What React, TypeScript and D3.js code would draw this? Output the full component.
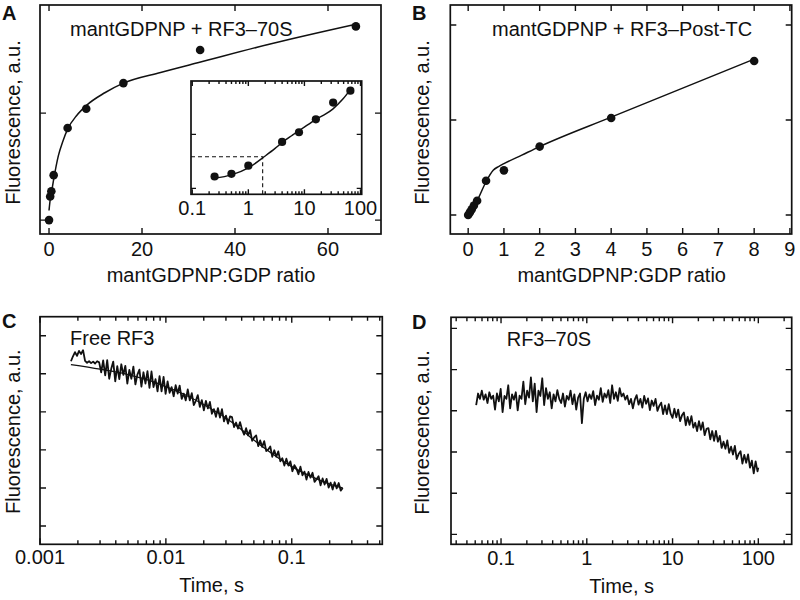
import React from 'react';
import * as d3 from 'd3';

// ---------- Panel A data ----------
const aRatio = [0, 0.25, 0.5, 1, 4, 8, 16, 32.5, 66];
const aFluor = [0.0, 0.22, 0.27, 0.42, 0.86, 1.04, 1.28, 1.59, 1.81];
const aFitRatio = [0, 0.25, 0.5, 1, 2, 3, 4, 6, 8, 12, 16, 24, 32, 48, 66];
const aFitFluor = [0.09, 0.19, 0.25, 0.38, 0.6, 0.74, 0.85, 0.98, 1.07, 1.19, 1.28, 1.38, 1.47, 1.65, 1.83];
const aXTicks = [0, 20, 40, 60];
const aYTicks = [0, 1];
const insetXTicks = [0.1, 1, 10, 100];
const insetYTicks = [0, 1];
const insetDash = { x: 1.8, y: 0.585 };

// ---------- Panel B data ----------
const bRatio = [0, 0.05, 0.1, 0.16, 0.25, 0.5, 1, 2, 4, 8];
const bFluor = [0, 0.03, 0.06, 0.1, 0.15, 0.36, 0.47, 0.72, 1.02, 1.62];
const bFitRatio = [0, 0.125, 0.25, 0.5, 0.7, 0.85, 1, 1.5, 2, 4, 8];
const bFitFluor = [0, 0.07, 0.15, 0.35, 0.47, 0.51, 0.54, 0.63, 0.72, 1.03, 1.64];
const bXTicks = [0, 1, 2, 3, 4, 5, 6, 7, 8, 9];
const bYTicks = [0, 1, 2];

// ---------- Panel C data (Free RF3) ----------
const cTimeMs = [
  1.762, 1.828, 1.897, 1.968, 2.042, 2.118, 2.198, 2.280, 2.366, 2.455,
  2.547, 2.642, 2.741, 2.844, 2.951, 3.062, 3.176, 3.296, 3.419, 3.547,
  3.680, 3.818, 3.962, 4.110, 4.265, 4.425, 4.591, 4.763, 4.941, 5.127,
  5.319, 5.519, 5.726, 5.940, 6.163, 6.394, 6.634, 6.883, 7.141, 7.409,
  7.687, 7.975, 8.274, 8.585, 8.907, 9.241, 9.587, 9.947, 10.32, 10.71,
  11.11, 11.53, 11.96, 12.41, 12.87, 13.36, 13.86, 14.38, 14.92, 15.48,
  16.06, 16.66, 17.29, 17.93, 18.61, 19.30, 20.03, 20.78, 21.56, 22.37,
  23.21, 24.08, 24.98, 25.92, 26.89, 27.90, 28.94, 30.03, 31.15, 32.32,
  33.53, 34.79, 36.10, 37.45, 38.86, 40.31, 41.83, 43.39, 45.02, 46.71,
  48.46, 50.28, 52.16, 54.12, 56.15, 58.25, 60.44, 62.70, 65.06, 67.50,
  70.03, 72.65, 75.38, 78.20, 81.14, 84.18, 87.34, 90.61, 94.01, 97.54,
  101.2, 105.0, 108.9, 113.0, 117.2, 121.6, 126.2, 130.9, 135.8, 140.9,
  146.2, 151.7, 157.4, 163.3, 169.4, 175.8, 182.4, 189.2, 196.3, 203.7,
  211.3, 219.2, 227.5, 236.0, 244.8, 254.0,
];
const cSignal = [
  4.33, 4.46, 4.57, 4.47, 4.60, 4.52, 4.62, 4.34, 4.29, 4.33,
  4.28, 4.32, 4.27, 4.33, 4.30, 4.04, 4.35, 3.96, 4.36, 3.87,
  4.13, 4.32, 3.80, 4.20, 3.86, 4.25, 3.97, 4.21, 3.74, 4.10,
  3.87, 4.19, 3.72, 3.98, 4.11, 3.66, 4.04, 3.74, 4.07, 3.63,
  4.06, 3.65, 3.86, 3.54, 3.94, 3.54, 3.92, 3.47, 3.80, 3.50,
  3.65, 3.41, 3.70, 3.48, 3.69, 3.34, 3.48, 3.30, 3.59, 3.30,
  3.49, 3.18, 3.29, 3.44, 3.13, 3.31, 3.04, 3.29, 3.09, 3.26,
  2.95, 3.07, 2.87, 3.10, 2.85, 3.07, 2.75, 2.90, 2.69, 2.88,
  2.86, 2.60, 2.72, 2.56, 2.73, 2.53, 2.40, 2.57, 2.38, 2.52,
  2.24, 2.33, 2.38, 2.10, 2.25, 2.08, 2.23, 1.97, 2.01, 2.09,
  1.82, 1.99, 1.82, 1.96, 1.70, 1.78, 1.59, 1.77, 1.59, 1.70,
  1.44, 1.60, 1.51, 1.36, 1.56, 1.33, 1.43, 1.22, 1.42, 1.27,
  1.40, 1.16, 1.23, 1.31, 1.07, 1.25, 1.09, 1.24, 1.01, 1.14,
  0.96, 1.15, 0.99, 1.13, 0.93, 1.00,
];
const cFitTime = [0.00176, 0.003, 0.005, 0.0075, 0.01, 0.015, 0.02, 0.03, 0.04, 0.05, 0.07, 0.1, 0.15, 0.2, 0.254];
const cFitSignal = [4.24, 4.12, 3.98, 3.82, 3.66, 3.41, 3.19, 2.84, 2.53, 2.26, 1.9, 1.56, 1.27, 1.1, 1.0];
const cXTicks = [0.001, 0.01, 0.1];
const cYTicks = [0, 1, 2, 3, 4, 5];

// ---------- Panel D data (RF3–70S) ----------
const dTime = [
  0.0513, 0.0540, 0.0568, 0.0597, 0.0628, 0.0661, 0.0695, 0.0731, 0.0769, 0.0809,
  0.0851, 0.0896, 0.0942, 0.0991, 0.1043, 0.1097, 0.1154, 0.1214, 0.1277, 0.1344,
  0.1413, 0.1487, 0.1564, 0.1646, 0.1731, 0.1821, 0.1916, 0.2016, 0.2120, 0.2231,
  0.2347, 0.2469, 0.2597, 0.2732, 0.2874, 0.3024, 0.3181, 0.3346, 0.3520, 0.3703,
  0.3896, 0.4099, 0.4312, 0.4536, 0.4772, 0.5020, 0.5281, 0.5556, 0.5845, 0.6149,
  0.6469, 0.6805, 0.7159, 0.7532, 0.7923, 0.8335, 0.8769, 0.9225, 0.9705, 1.021,
  1.074, 1.130, 1.189, 1.250, 1.315, 1.384, 1.456, 1.532, 1.611, 1.695,
  1.783, 1.876, 1.973, 2.076, 2.184, 2.297, 2.417, 2.542, 2.675, 2.814,
  2.960, 3.114, 3.276, 3.446, 3.625, 3.814, 4.012, 4.221, 4.440, 4.671,
  4.914, 5.170, 5.439, 5.721, 6.019, 6.332, 6.661, 7.008, 7.372, 7.756,
  8.159, 8.583, 9.030, 9.499, 9.993, 10.51, 11.06, 11.64, 12.24, 12.88,
  13.55, 14.25, 14.99, 15.77, 16.59, 17.46, 18.36, 19.32, 20.32, 21.38,
  22.49, 23.66, 24.89, 26.19, 27.55, 28.98, 30.49, 32.07, 33.74, 35.50,
  37.34, 39.28, 41.33, 43.48, 45.74, 48.12, 50.62, 53.25, 56.02, 58.94,
  62.00, 65.23, 68.62, 72.19, 75.94, 79.89, 84.05, 88.42, 93.02, 97.86,
  100.0,
];
const dSignal = [
  3.14, 3.42, 3.29, 3.49, 3.27, 3.40, 3.19, 3.45, 3.29, 3.37,
  3.03, 3.42, 3.23, 3.53, 2.97, 3.36, 3.29, 3.62, 3.06, 3.40,
  3.27, 3.45, 3.01, 3.37, 3.29, 3.71, 3.16, 3.49, 3.32, 3.81,
  3.23, 3.66, 2.97, 3.49, 3.36, 3.79, 3.14, 3.55, 3.29, 3.45,
  3.06, 3.40, 3.23, 3.50, 3.29, 3.19, 3.42, 3.10, 3.36, 3.27,
  3.49, 3.16, 3.40, 3.03, 3.32, 3.42, 2.70, 3.29, 3.45, 3.23,
  3.40, 3.29, 3.48, 3.14, 3.37, 3.27, 3.55, 3.22, 3.42, 3.32,
  3.50, 3.19, 3.62, 3.29, 3.45, 3.24, 3.55, 3.35, 3.42, 3.27,
  3.37, 3.16, 3.29, 3.06, 3.27, 3.38, 3.15, 3.29, 3.08, 3.36,
  3.17, 3.30, 3.02, 3.25, 3.12, 3.29, 3.00, 3.12, 3.20, 2.92,
  3.13, 2.92, 3.16, 2.93, 2.83, 3.05, 2.84, 3.03, 2.75, 2.89,
  2.96, 2.65, 2.85, 2.66, 2.87, 2.59, 2.71, 2.51, 2.75, 2.54,
  2.72, 2.41, 2.56, 2.58, 2.31, 2.51, 2.27, 2.51, 2.25, 2.39,
  2.10, 2.25, 2.08, 2.28, 1.98, 2.13, 1.94, 2.15, 1.83, 1.95,
  2.02, 1.72, 1.93, 1.74, 1.94, 1.62, 1.79, 1.48, 1.77, 1.53,
  1.62,
];
const dXTicks = [0.1, 1, 10, 100];
const dYTicks = [0, 1, 2, 3, 4, 5];

const FONT = '"Liberation Sans", Arial, Helvetica, sans-serif';
const FS = 20;

function logMinor(lo: number, hi: number): number[] {
  const out: number[] = [];
  for (let e = Math.floor(Math.log10(lo)); e <= Math.ceil(Math.log10(hi)); e++) {
    for (let m = 2; m <= 9; m++) {
      const v = m * Math.pow(10, e);
      if (v > lo && v < hi) out.push(v);
    }
  }
  return out;
}

function Frame({ xs, ys, xMajor, yMajor, xMinor = [], majLen = 6, minLen = 3.5 }: any) {
  const [x0, x1] = xs.range();
  const [y0, y1] = ys.range();
  const segs: string[] = [];
  xMajor.forEach((v: number) => {
    const p = xs(v);
    segs.push(`M${p},${y0}V${y0 - majLen}M${p},${y1}V${y1 + majLen}`);
  });
  xMinor.forEach((v: number) => {
    const p = xs(v);
    segs.push(`M${p},${y0}V${y0 - minLen}M${p},${y1}V${y1 + minLen}`);
  });
  yMajor.forEach((v: number) => {
    const p = ys(v);
    segs.push(`M${x0},${p}H${x0 + majLen}M${x1},${p}H${x1 - majLen}`);
  });
  return (
    <g>
      <rect x={x0} y={y1} width={x1 - x0} height={y0 - y1} fill="white" stroke="#111" strokeWidth={1.7} />
      <path d={segs.join('')} stroke="#111" strokeWidth={1.4} fill="none" />
    </g>
  );
}

function XLabels({ xs, ticks, y }: any) {
  return (
    <g>
      {ticks.map((v: number) => (
        <text key={v} x={xs(v)} y={y} textAnchor="middle" fontSize={FS} fontFamily={FONT} fill="#111">
          {String(v)}
        </text>
      ))}
    </g>
  );
}

function YTitle({ x, y, text }: any) {
  return (
    <text transform={`translate(${x},${y}) rotate(-90)`} textAnchor="middle" fontSize={FS} fontFamily={FONT} fill="#111">
      {text}
    </text>
  );
}

function Txt({ x, y, text, anchor = 'start', bold = false, size = FS }: any) {
  return (
    <text x={x} y={y} textAnchor={anchor} fontSize={size} fontWeight={bold ? 'bold' : 'normal'} fontFamily={FONT} fill="#111">
      {text}
    </text>
  );
}

export default function App() {
  const xA = d3.scaleLinear().domain([-1.94, 71.4]).range([40, 381]);
  const yA = d3.scaleLinear().domain([-0.13, 2.01]).range([234, 5]);
  const xI = d3.scaleLog().domain([0.095, 105]).range([191, 361.7]);
  const yI = d3.scaleLinear().domain([-0.11, 1.99]).range([194.3, 81]);
  const xB = d3.scaleLinear().domain([-0.5, 9.05]).range([450.3, 791.7]);
  const yB = d3.scaleLinear().domain([-0.2, 2.21]).range([234, 5]);
  const xC = d3.scaleLog().domain([0.001, 0.524]).range([40, 382.3]);
  const yC = d3.scaleLinear().domain([-0.48, 5.5]).range([544.3, 316.7]);
  const xD = d3.scaleLog().domain([0.0261, 245]).range([451, 791.7]);
  const yD = d3.scaleLinear().domain([-0.24, 5.27]).range([544.3, 317.3]);

  const fitA = d3.line<number>().x((d, i) => xA(aFitRatio[i])).y((d) => yA(d)).curve(d3.curveMonotoneX)(aFitFluor) || '';
  const fitI = d3.line<number>().x((d, i) => xI(aFitRatio[i + 1])).y((d) => yI(d)).curve(d3.curveMonotoneX)(aFitFluor.slice(1)) || '';
  const fitB = d3.line<number>().x((d, i) => xB(bFitRatio[i])).y((d) => yB(d)).curve(d3.curveMonotoneX)(bFitFluor) || '';
  const traceC = d3.line<number>().x((d, i) => xC(cTimeMs[i] / 1000)).y((d) => yC(d))(cSignal) || '';
  const fitC = d3.line<number>().x((d, i) => xC(cFitTime[i])).y((d) => yC(d)).curve(d3.curveMonotoneX)(cFitSignal) || '';
  const traceD = d3.line<number>().x((d, i) => xD(dTime[i])).y((d) => yD(d))(dSignal) || '';

  const insetMinor = logMinor(0.095, 105);
  const cMinor = logMinor(0.001, 0.524);
  const dMinor = logMinor(0.0261, 245);

  return (
    <svg width={800} height={600} style={{ position: 'absolute', left: 0, top: 0, background: 'white' }}>
      <rect width={800} height={600} fill="white" />
      {/* ---------- A ---------- */}
      <Frame xs={xA} ys={yA} xMajor={aXTicks} yMajor={aYTicks} />
      <path d={fitA} fill="none" stroke="#111" strokeWidth={1.5} />
      {aRatio.map((v, i) => (
        <circle key={i} cx={xA(v)} cy={yA(aFluor[i])} r={4.3} fill="#111" />
      ))}
      <Txt x={70} y={36} text="mantGDPNP + RF3–70S" />
      <XLabels xs={xA} ticks={aXTicks} y={256} />
      <Txt x={211} y={282} text="mantGDPNP:GDP ratio" anchor="middle" />
      <YTitle x={19.5} y={122.5} text="Fluorescence, a.u." />
      <Txt x={2} y={20} text="A" bold size={20} />
      {/* inset */}
      <Frame xs={xI} ys={yI} xMajor={insetXTicks} yMajor={insetYTicks} xMinor={insetMinor} majLen={5} minLen={3} />
      <path
        d={`M${xI.range()[0]},${yI(insetDash.y)}H${xI(insetDash.x)}V${yI.range()[0]}`}
        fill="none" stroke="#111" strokeWidth={1.1} strokeDasharray="4,3"
      />
      <path d={fitI} fill="none" stroke="#111" strokeWidth={1.5} />
      {aRatio.slice(1).map((v, i) => (
        <circle key={i} cx={xI(v)} cy={yI(aFluor[i + 1])} r={4.1} fill="#111" />
      ))}
      <XLabels xs={xI} ticks={insetXTicks} y={215} />

      {/* ---------- B ---------- */}
      <Frame xs={xB} ys={yB} xMajor={bXTicks} yMajor={bYTicks} />
      <path d={fitB} fill="none" stroke="#111" strokeWidth={1.5} />
      {bRatio.map((v, i) => (
        <circle key={i} cx={xB(v)} cy={yB(bFluor[i])} r={4.3} fill="#111" />
      ))}
      <Txt x={492} y={36} text="mantGDPNP + RF3–Post-TC" />
      <XLabels xs={xB} ticks={bXTicks} y={256} />
      <Txt x={621.7} y={282} text="mantGDPNP:GDP ratio" anchor="middle" />
      <YTitle x={428.5} y={122.5} text="Fluorescence, a.u." />
      <Txt x={412} y={20} text="B" bold size={20} />

      {/* ---------- C ---------- */}
      <Frame xs={xC} ys={yC} xMajor={cXTicks} yMajor={cYTicks} xMinor={cMinor} majLen={6} minLen={4} />
      <path d={traceC} fill="none" stroke="#111" strokeWidth={1.8} strokeLinejoin="round" />
      <path d={fitC} fill="none" stroke="#111" strokeWidth={1.3} />
      <Txt x={70} y={345} text="Free RF3" />
      <XLabels xs={xC} ticks={cXTicks} y={563.5} />
      <Txt x={211.7} y={592} text="Time, s" anchor="middle" />
      <YTitle x={19.5} y={431.7} text="Fluorescence, a.u." />
      <Txt x={2} y={328} text="C" bold size={20} />

      {/* ---------- D ---------- */}
      <Frame xs={xD} ys={yD} xMajor={dXTicks} yMajor={dYTicks} xMinor={dMinor} majLen={6} minLen={4} />
      <path d={traceD} fill="none" stroke="#111" strokeWidth={1.8} strokeLinejoin="round" />
      <Txt x={506.7} y={345.7} text="RF3–70S" />
      <XLabels xs={xD} ticks={dXTicks} y={565} />
      <Txt x={621.7} y={593} text="Time, s" anchor="middle" />
      <YTitle x={428.5} y={432.5} text="Fluorescence, a.u." />
      <Txt x={412} y={329} text="D" bold size={20} />
    </svg>
  );
}
